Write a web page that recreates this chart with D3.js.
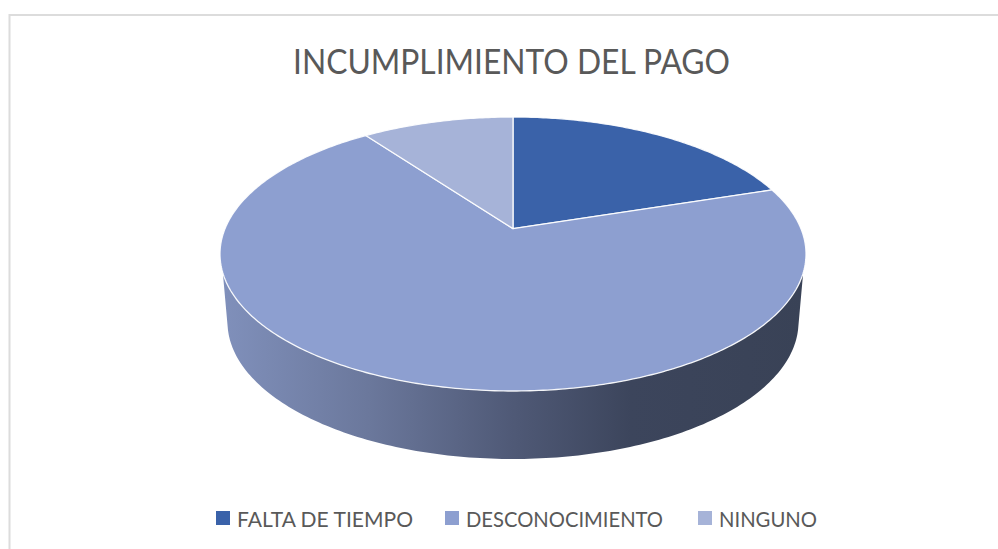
<!DOCTYPE html>
<html><head><meta charset="utf-8">
<script src="https://cdn.jsdelivr.net/npm/d3@7/dist/d3.min.js"></script>
<style>html,body{margin:0;padding:0;background:#fff}svg{display:block}text{font-family:Lato,"Open Sans",sans-serif;fill:#595959}</style>
</head><body><svg id="c" width="998" height="549"></svg>
<script>
const titleText = "INCUMPLIMIENTO DEL PAGO";
const categories = ["FALTA DE TIEMPO","DESCONOCIMIENTO","NINGUNO"];
const values = [20,70,10];
const colors = ["#3a62a9","#8d9fd0","#a6b3d8"];
const legendTextX = [237,466,719];
const legendTextW = [176,197,98];

const svg = d3.select("#c");
const W=998,H=549;
svg.append("rect").attr("x",9.5).attr("y",15).attr("width",W+20).attr("height",H+20)
  .attr("fill","#fff").attr("stroke","#dcdcdc").attr("stroke-width",2);

svg.append("text").attr("x",293).attr("y",74).attr("font-size",35)
  .attr("textLength",437).attr("lengthAdjust","spacingAndGlyphs").text(titleText);

const cx=513, cy=254, rx=293, ry=137, k=-0.185;
const bcy=322, brx=285.5, bry=137;
// perspective map of the flat unit disc onto the top ellipse
const proj=a=>{const u=Math.sin(a),v=-Math.cos(a),d=1+k*v;
  return [cx+rx*u*Math.sqrt(1-k*k)/d, cy+ry*(v+k)/d];};
const apex=[cx, cy+ry*k];

const defs=svg.append("defs");
const g=defs.append("linearGradient").attr("id","wall").attr("gradientUnits","userSpaceOnUse")
  .attr("x1",222).attr("x2",806).attr("y1",0).attr("y2",0);
[[0,"#8090bb"],[0.25,"#6b789c"],[0.5,"#4f5976"],[0.7,"#3c455c"],[1,"#394256"]]
  .forEach(s=>g.append("stop").attr("offset",s[0]).attr("stop-color",s[1]));

// wall
const t0=8*Math.PI/180,t1=2*Math.PI/180;
const wall=[...d3.range(t0,Math.PI-t0+1e-6,(Math.PI-2*t0)/160).map(t=>[cx+rx*Math.cos(t),cy+ry*Math.sin(t)]),
  ...d3.range(Math.PI-t1,t1-1e-6,-(Math.PI-2*t1)/160).map(t=>[cx+brx*Math.cos(t),bcy+bry*Math.sin(t)])];
svg.append("path").attr("d",d3.line()(wall)+"Z").attr("fill","url(#wall)");

// top slices
const pie=d3.pie().sort(null)(values);
pie.forEach((p,i)=>{
  const n=Math.max(40,Math.round((p.endAngle-p.startAngle)*80));
  const pts=d3.range(n+1).map(j=>proj(p.startAngle+(p.endAngle-p.startAngle)*j/n));
  svg.append("path").attr("d",d3.line()([apex,...pts])+"Z")
    .attr("fill",colors[i]).attr("stroke","#fff").attr("stroke-width",1.3)
    .attr("stroke-linejoin","round").attr("stroke-opacity",0.9);
});

// legend
categories.forEach((c,i)=>{
  svg.append("rect").attr("x",legendTextX[i]-21).attr("y",511).attr("width",14).attr("height",14).attr("fill",colors[i]);
  svg.append("text").attr("x",legendTextX[i]).attr("y",526.5).attr("font-size",21.5)
    .attr("textLength",legendTextW[i]).attr("lengthAdjust","spacingAndGlyphs").text(c);
});
</script></body></html>
